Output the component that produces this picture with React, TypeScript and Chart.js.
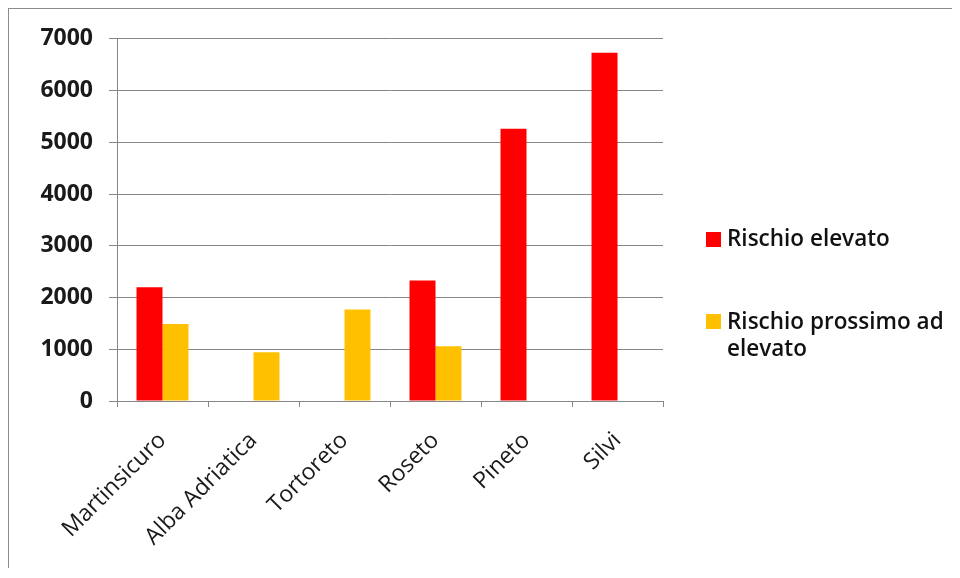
import React, { useEffect, useRef } from "react";
import { Chart, registerables } from "chart.js";

Chart.register(...registerables);

const categories = ["Martinsicuro", "Alba Adriatica", "Tortoreto", "Roseto", "Pineto", "Silvi"];
const rischioElevato = [2200, null, null, 2330, 5260, 6730];
const rischioProssimo = [1490, 940, 1770, 1060, null, null];
const seriesNames = ["Rischio elevato", "Rischio prossimo ad elevato"];
const seriesColors = ["#FF0000", "#FFC000"];
const yMin = 0;
const yMax = 7000;
const yStep = 1000;

const FONT = "'Open Sans', 'Liberation Sans', sans-serif";
const GRID = "#878787";

export default function App() {
  const canvasRef = useRef<HTMLCanvasElement | null>(null);

  useEffect(() => {
    const canvas = canvasRef.current;
    if (!canvas) return;
    const chart = new Chart(canvas, {
      type: "bar",
      data: {
        labels: categories,
        datasets: [
          { label: seriesNames[0], data: rischioElevato, backgroundColor: seriesColors[0] },
          { label: seriesNames[1], data: rischioProssimo, backgroundColor: seriesColors[1] },
        ],
      },
      options: {
        animation: false,
        responsive: false,
        maintainAspectRatio: false,
        datasets: { bar: { categoryPercentage: 0.571, barPercentage: 1 } },
        layout: { padding: { top: 28, right: 289, bottom: 0, left: 0 } },
        plugins: { legend: { display: false }, tooltip: { enabled: false } },
        scales: {
          x: {
            grid: { offset: true, drawOnChartArea: false, tickLength: 6, color: GRID },
            border: { color: GRID, width: 1 },
            ticks: {
              minRotation: 45,
              maxRotation: 45,
              padding: 20,
              color: "#1a1a1a",
              font: { family: FONT, size: 23, weight: "400" },
            },
            afterFit: (s: any) => { s.height = 167; },
          },
          y: {
            min: yMin,
            max: yMax,
            ticks: {
              stepSize: yStep,
              padding: 16,
              color: "#1a1a1a",
              font: { family: FONT, size: 23, weight: "700" },
              callback: (v: any) => String(v),
            },
            grid: { color: GRID, tickLength: 8 },
            border: { color: GRID, width: 1 },
            afterFit: (s: any) => { s.width = 108; },
          },
        },
      },
    });
    return () => chart.destroy();
  }, []);

  const legendItems = [
    { top: 225, squareTop: 223 },
    { top: 308, squareTop: 305 },
  ];

  return (
    <div
      style={{
        position: "relative",
        width: 943,
        height: 559,
        borderTop: "1px solid #8c8c8c",
        borderLeft: "1px solid #8c8c8c",
        overflow: "hidden",
      }}
    >
      <canvas ref={canvasRef} width={943} height={559} style={{ display: "block" }} />
      {seriesNames.map((name, i) => (
        <React.Fragment key={name}>
          <div
            style={{
              position: "absolute",
              left: 697,
              top: legendItems[i].squareTop,
              width: 15,
              height: 15,
              background: seriesColors[i],
            }}
          />
          <div
            style={{
              position: "absolute",
              left: 718,
              top: legendItems[i].top - 10,
              width: 232,
              fontFamily: FONT,
              fontSize: 22.5,
              fontWeight: 600,
              lineHeight: "27px",
              color: "#111",
            }}
          >
            {name}
          </div>
        </React.Fragment>
      ))}
    </div>
  );
}
